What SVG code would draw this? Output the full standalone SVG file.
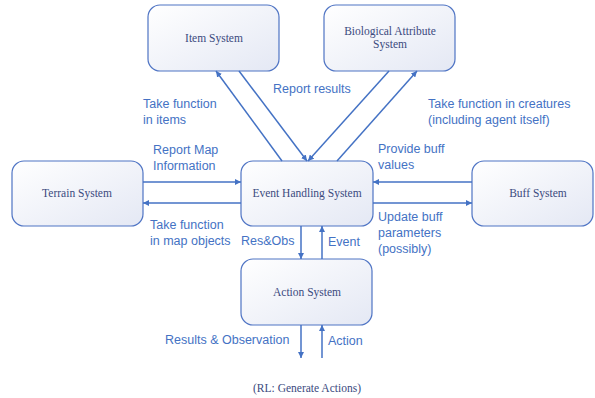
<svg xmlns="http://www.w3.org/2000/svg" width="595" height="398" viewBox="0 0 595 398">
<style>
.box{stroke:#4f74c4;stroke-width:1.2;fill:url(#g)}
.bt{font-family:"Liberation Serif",serif;font-size:11.5px;fill:#3b4a7e;text-anchor:middle}
.lb{font-family:"Liberation Sans",sans-serif;font-size:12.5px;fill:#4472c4}
.c{stroke:#4472c4;stroke-width:1.5;fill:none;marker-end:url(#ah)}
</style>
<defs>
<linearGradient id="g" x1="0" y1="0" x2="1" y2="1">
<stop offset="0" stop-color="#ffffff"/>
<stop offset="1" stop-color="#e4e8f4"/>
</linearGradient>
<marker id="ah" viewBox="0 0 10 10" refX="10" refY="5" markerWidth="6" markerHeight="6" markerUnits="userSpaceOnUse" orient="auto">
<path d="M0,0 L10,5 L0,10 z" fill="#4472c4"/>
</marker>
</defs>
<rect width="595" height="398" fill="#ffffff"/>
<g id="item"><rect class="box" x="148" y="5" width="131" height="66" rx="12"/><text class="bt" x="214" y="42">Item System</text></g>
<g id="bio"><rect class="box" x="324" y="5" width="131" height="66" rx="12"/><text class="bt" x="390" y="35">Biological Attribute</text><text class="bt" x="390" y="48">System</text></g>
<g id="terrain"><rect class="box" x="12" y="161" width="131" height="65" rx="12"/><text class="bt" x="77" y="197">Terrain System</text></g>
<g id="event"><rect class="box" x="241" y="161" width="132" height="65" rx="12"/><text class="bt" x="307" y="197">Event Handling System</text></g>
<g id="buff"><rect class="box" x="472" y="161" width="121" height="65" rx="12"/><text class="bt" x="538" y="197">Buff System</text></g>
<g id="action"><rect class="box" x="241" y="259" width="131" height="66" rx="12"/><text class="bt" x="307" y="296">Action System</text></g>
<g id="connectors">
<line class="c" x1="282" y1="161" x2="216" y2="71"/>
<line class="c" x1="239" y1="71" x2="307" y2="161"/>
<line class="c" x1="389" y1="71" x2="308" y2="161"/>
<line class="c" x1="337" y1="161" x2="417" y2="71"/>
<line class="c" x1="143" y1="182" x2="241" y2="182"/>
<line class="c" x1="241" y1="203" x2="143" y2="203"/>
<line class="c" x1="472" y1="182" x2="373" y2="182"/>
<line class="c" x1="373" y1="203" x2="472" y2="203"/>
<line class="c" x1="301" y1="226" x2="301" y2="259"/>
<line class="c" x1="322" y1="259" x2="322" y2="226"/>
<line class="c" x1="301" y1="325" x2="301" y2="358"/>
<line class="c" x1="322" y1="358" x2="322" y2="325"/>
</g>
<g id="labels">
<text class="lb" x="143" y="108">Take function</text>
<text class="lb" x="143" y="124">in items</text>
<text class="lb" x="273" y="93">Report results</text>
<text class="lb" x="428" y="108">Take function in creatures</text>
<text class="lb" x="428" y="124">(including agent itself)</text>
<text class="lb" x="153" y="154">Report Map</text>
<text class="lb" x="153" y="170">Information</text>
<text class="lb" x="150" y="229">Take function</text>
<text class="lb" x="150" y="245">in map objects</text>
<text class="lb" x="241" y="245">Res&amp;Obs</text>
<text class="lb" x="328" y="246">Event</text>
<text class="lb" x="378" y="153">Provide buff</text>
<text class="lb" x="378" y="169">values</text>
<text class="lb" x="378" y="221">Update buff</text>
<text class="lb" x="378" y="237">parameters</text>
<text class="lb" x="378" y="253">(possibly)</text>
<text class="lb" x="165" y="344">Results &amp; Observation</text>
<text class="lb" x="328" y="345">Action</text>
<text class="bt" x="307" y="392">(RL: Generate Actions)</text>
</g>
</svg>
